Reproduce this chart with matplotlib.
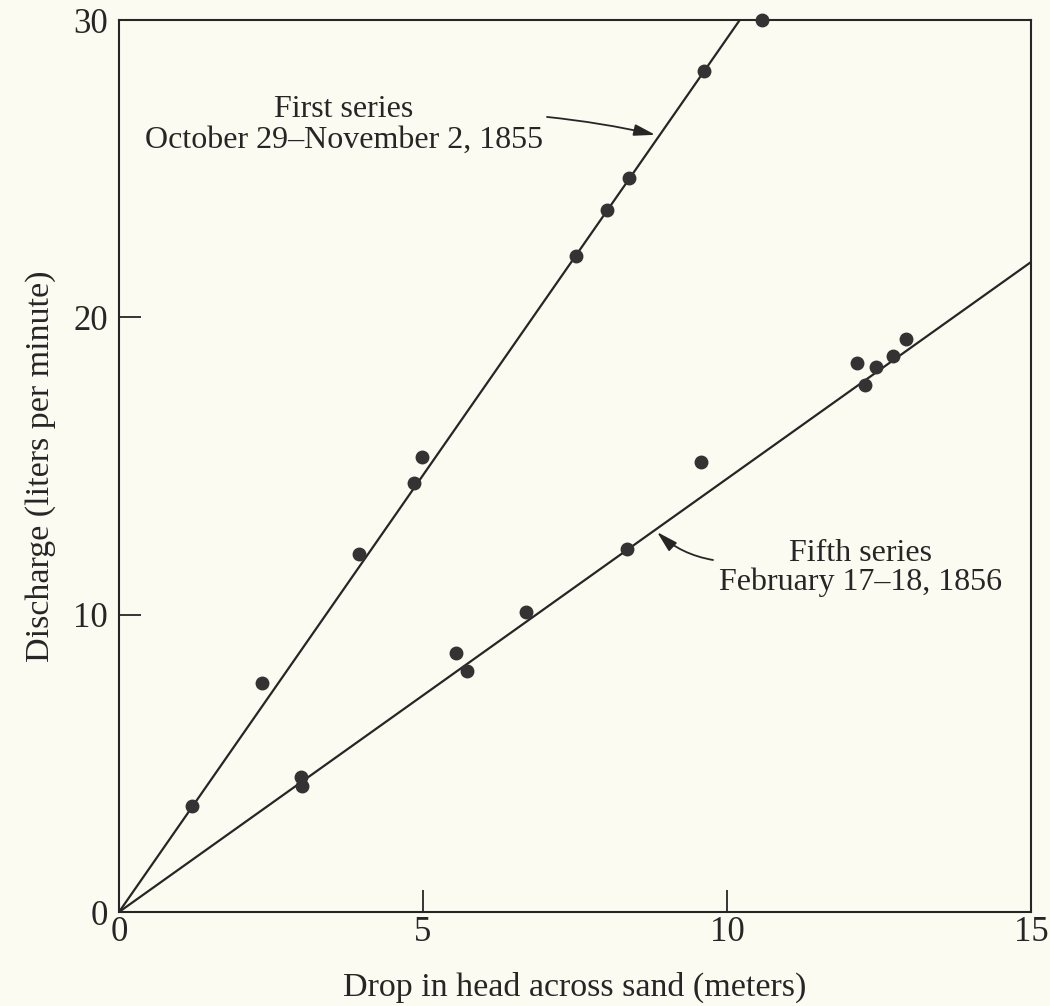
import matplotlib.pyplot as plt

# Darcy's experiments: discharge vs drop in head
first_x = [1.20, 2.36, 3.94, 4.86, 4.99, 7.51, 8.02, 8.39, 9.62, 10.58]
first_y = [3.57, 7.71, 12.05, 14.44, 15.32, 22.05, 23.60, 24.70, 28.28, 30.0]

fifth_x = [3.00, 3.01, 5.55, 5.73, 6.70, 8.35, 9.57, 12.14, 12.27, 12.45, 12.73, 12.95]
fifth_y = [4.55, 4.24, 8.72, 8.11, 10.10, 12.22, 15.15, 18.45, 17.71, 18.32, 18.69, 19.26]

# fitted lines (end points)
first_fit_x = [0, 10.21]
first_fit_y = [0, 30.0]
fifth_fit_x = [0, 15.0]
fifth_fit_y = [0, 21.86]

x_ticks = [0, 5, 10, 15]
y_ticks = [0, 10, 20, 30]

bg = '#fcfbf1'
ink = '#262626'

plt.rcParams['font.family'] = ['Liberation Serif', 'DejaVu Serif']

fig = plt.figure(figsize=(10.5, 10.06), dpi=100, facecolor=bg)
ax = fig.add_axes([0.1133, 0.0934, 0.8686, 0.8867])
ax.set_facecolor(bg)

ax.plot(first_fit_x, first_fit_y, color=ink, lw=1.6, solid_capstyle='butt')
ax.plot(fifth_fit_x, fifth_fit_y, color=ink, lw=1.6, solid_capstyle='butt')
ax.plot(first_x, first_y, 'o', color='#333333', ms=9, clip_on=False, zorder=5)
ax.plot(fifth_x, fifth_y, 'o', color='#333333', ms=9, clip_on=False, zorder=5)

ax.set_xlim(0, 15)
ax.set_ylim(0, 30)
ax.set_xticks(x_ticks)
ax.set_yticks(y_ticks)
ax.tick_params(axis='both', direction='in', length=16, width=1.3, color=ink,
               labelsize=25, labelcolor=ink)
ax.tick_params(axis='x', pad=3)
ax.tick_params(axis='y', pad=8)
for s in ax.spines.values():
    s.set_linewidth(1.5)
    s.set_color(ink)

ax.set_xlabel('Drop in head across sand (meters)', fontsize=24.5, color=ink, labelpad=16)
ax.set_ylabel('Discharge (liters per minute)', fontsize=24.5, color=ink, labelpad=12)

arrow = dict(arrowstyle='-|>,head_length=0.8,head_width=0.22', color=ink, lw=1.3,
             shrinkA=0, shrinkB=0, mutation_scale=16)
ax.annotate('', xy=(8.82, 26.14), xytext=(7.04, 26.74),
            arrowprops=dict(arrow, connectionstyle='arc3,rad=-0.03'))
ax.text(3.70, 26.47, 'First series\nOctober 29\u2013November 2, 1855', fontsize=23,
        color=ink, ha='center', va='center', multialignment='center', linespacing=1.05)

ax.annotate('', xy=(8.85, 12.78), xytext=(9.77, 11.84),
            arrowprops=dict(arrow, connectionstyle='arc3,rad=-0.15'))
ax.text(12.2, 11.57, 'Fifth series\nFebruary 17\u201318, 1856', fontsize=23,
        color=ink, ha='center', va='center', multialignment='center', linespacing=1.0)

fig.savefig('out.png', dpi=100, facecolor=bg)
